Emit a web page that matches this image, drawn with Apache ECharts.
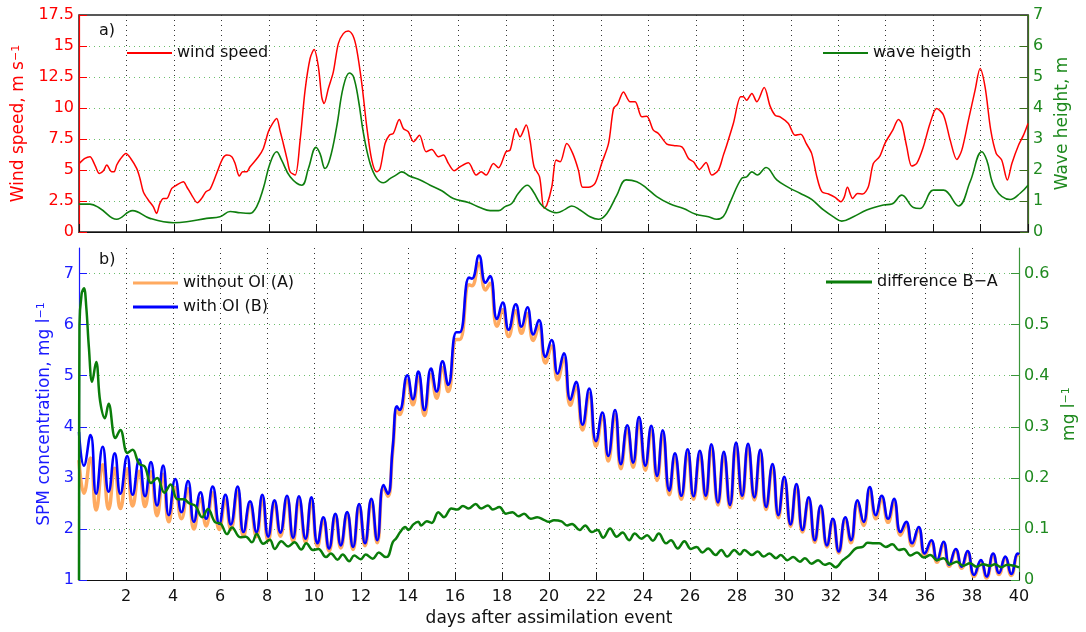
<!DOCTYPE html>
<html>
<head>
<meta charset="utf-8">
<script src="https://cdn.jsdelivr.net/npm/echarts@6/dist/echarts.min.js"></script>
<style>
html,body{margin:0;padding:0;background:#fff;}
#chart{width:1086px;height:632px;}
</style>
</head>
<body>
<div id="chart"></div>
<script>
// ---- panel a) wind speed / wave height ----
const windDays = [0,0.25,0.46,0.67,0.86,1.03,1.17,1.38,1.48,1.59,1.73,1.98,2.18,2.43,2.57,2.71,2.92,3.13,3.27,3.41,3.56,3.7,3.91,4.12,4.4,4.54,4.75,4.99,5.17,5.35,5.52,5.8,6.06,6.23,6.44,6.58,6.76,6.9,7.07,7.21,7.56,7.77,7.98,8.12,8.33,8.47,8.61,8.78,8.9,9.11,9.32,9.53,9.74,9.91,10.09,10.23,10.33,10.51,10.72,10.93,11.14,11.35,11.54,11.7,11.92,12.13,12.34,12.55,12.69,12.9,13.08,13.25,13.5,13.67,13.88,14.1,14.35,14.63,14.87,15.15,15.36,15.57,15.81,16.06,16.41,16.74,16.95,17.16,17.47,17.68,18.0,18.17,18.42,18.59,18.85,19.01,19.18,19.41,19.6,19.72,19.93,20.11,20.28,20.56,20.81,21.05,21.23,21.47,21.75,22.03,22.32,22.53,22.7,22.95,23.23,23.44,23.72,23.93,24.21,24.42,24.78,25.06,25.41,25.69,25.9,26.15,26.43,26.67,26.95,27.16,27.3,27.58,27.89,28.0,28.14,28.36,28.57,28.88,29.13,29.34,29.55,29.9,30.18,30.42,30.65,30.88,31.1,31.31,31.59,31.87,32.11,32.25,32.39,32.61,32.81,33.03,33.27,33.48,33.74,33.98,34.3,34.54,34.68,34.89,35.1,35.31,35.59,35.87,36.15,36.44,36.72,37.0,37.21,37.49,37.77,37.98,38.19,38.43,38.66,38.89,39.13,39.32,39.6,39.81,40];
const windSpeed = [5.5,5.93,6.07,5.4,4.72,4.94,5.4,4.86,4.86,5.4,5.85,6.34,5.93,5.13,4.32,3.25,2.58,2.04,1.5,2.31,2.71,2.71,3.52,3.79,4.05,3.65,2.98,2.36,2.71,3.25,3.44,4.72,5.93,6.2,6.07,5.53,4.51,4.86,4.86,5.26,6.07,6.74,8.08,8.62,9.15,8.21,7.14,5.8,4.86,4.59,7.41,11.44,13.99,14.71,13.32,10.9,10.36,11.57,12.91,15.19,16.0,16.21,15.87,14.79,11.97,8.48,5.8,4.86,5.1,7.14,7.81,7.95,9.07,8.35,8.08,7.28,7.81,6.47,6.66,6.07,6.2,5.53,4.94,5.26,5.58,4.59,4.86,4.59,5.53,5.18,6.47,6.6,8.35,7.68,8.62,7.41,5.26,4.46,1.91,2.17,3.65,5.8,5.66,7.14,6.34,4.99,3.6,3.6,3.92,5.53,7.14,9.96,10.31,11.3,10.5,10.5,9.29,9.34,8.21,7.95,7.09,6.98,6.87,5.93,5.66,5.05,5.61,4.59,4.99,6.2,7.0,8.75,10.9,10.9,10.63,11.17,10.5,11.65,10.15,9.42,9.29,8.75,7.81,7.89,7.14,6.34,4.46,3.25,3.06,2.79,2.44,2.79,3.6,2.71,3.11,3.06,3.65,5.53,6.07,7.19,8.21,9.07,8.75,6.87,5.32,5.53,6.87,8.75,9.96,9.42,7.41,5.85,6.6,9.02,11.44,13.18,11.7,8.21,6.34,5.8,4.19,5.53,7.0,7.81,8.75];

const waveDays = [0,0.46,0.89,1.59,2.26,2.99,3.98,4.54,5.38,5.94,6.37,6.79,7.21,7.49,7.77,8.05,8.33,8.54,8.9,9.39,9.67,9.99,10.16,10.37,10.58,10.86,11.14,11.4,11.57,11.78,11.99,12.27,12.55,12.83,13.11,13.39,13.6,13.95,14.38,14.8,15.29,15.78,16.41,16.9,17.33,17.68,17.96,18.24,18.52,18.9,19.15,19.44,19.72,20.14,20.49,20.77,21.12,21.54,21.89,22.25,22.67,23.06,23.51,23.93,24.35,24.92,25.48,25.97,26.53,26.88,27.16,27.44,27.93,28.14,28.36,28.59,28.96,29.41,29.9,30.39,30.88,31.38,31.8,32.15,32.64,33.2,33.91,34.26,34.68,35.17,35.45,36.01,36.44,37.07,37.56,38.05,38.26,38.61,39.25,39.67,40];
const waveHeight = [0.9,0.9,0.76,0.41,0.69,0.44,0.3,0.33,0.44,0.49,0.66,0.62,0.6,0.82,1.41,2.21,2.59,2.32,1.78,1.51,2.05,2.73,2.53,2.05,2.37,3.39,4.68,5.13,5.01,4.25,3.18,2.21,1.73,1.59,1.72,1.85,1.94,1.8,1.68,1.51,1.33,1.08,0.95,0.79,0.69,0.69,0.82,0.92,1.25,1.51,1.3,0.92,0.73,0.62,0.73,0.84,0.71,0.49,0.41,0.6,1.19,1.68,1.62,1.41,1.14,0.9,0.76,0.58,0.49,0.41,0.5,0.95,1.73,1.78,1.94,1.84,2.08,1.68,1.44,1.25,1.05,0.71,0.49,0.35,0.49,0.71,0.87,0.9,1.19,0.79,0.76,1.35,1.35,0.84,1.62,2.59,2.32,1.41,1.05,1.25,1.51];

// ---- panel b) SPM concentration ----
const spmDays = [0,0.21,0.49,0.73,1.01,1.26,1.52,1.76,2.05,2.28,2.56,2.81,3.06,3.32,3.58,3.82,4.10,4.36,4.64,4.89,5.17,5.41,5.69,5.97,6.23,6.46,6.75,7.0,7.28,7.55,7.8,8.05,8.32,8.57,8.85,9.11,9.36,9.64,9.89,10.15,10.40,10.64,10.91,11.14,11.41,11.66,11.92,12.17,12.44,12.69,12.96,13.14,13.35,13.53,13.64,13.97,14.21,14.44,14.70,14.98,15.22,15.47,15.71,16.06,16.2,16.6,16.72,17.02,17.30,17.49,17.79,18.03,18.28,18.59,18.83,19.08,19.33,19.57,19.85,20.11,20.37,20.63,20.91,21.15,21.43,21.71,22.0,22.27,22.52,22.81,23.06,23.33,23.58,23.83,24.1,24.35,24.6,24.84,25.12,25.36,25.63,25.9,26.15,26.42,26.67,26.91,27.19,27.44,27.7,27.96,28.22,28.47,28.74,28.99,29.24,29.51,29.76,30.01,30.28,30.53,30.79,31.05,31.31,31.56,31.83,32.08,32.33,32.61,32.85,33.13,33.39,33.65,33.91,34.16,34.43,34.68,34.96,35.2,35.45,35.73,35.99,36.27,36.51,36.79,37.03,37.31,37.56,37.81,38.09,38.38,38.62,38.9,39.15,39.42,39.67,39.95,40];
const spmWithOI = [3.9,3.24,3.84,2.69,3.61,2.73,3.48,2.69,3.43,2.67,3.36,2.64,3.31,2.46,3.24,2.27,2.98,2.33,2.94,2.14,2.72,2.2,2.83,2.1,2.67,2.09,2.83,1.94,2.54,1.94,2.67,1.85,2.56,1.93,2.65,1.83,2.64,1.81,2.62,1.72,2.23,1.62,2.3,1.68,2.33,1.65,2.49,1.72,2.59,1.78,2.86,2.69,3.6,4.4,4.33,5.01,4.54,5.08,4.33,5.14,4.69,5.28,4.82,5.85,5.85,6.92,6.9,7.35,6.82,6.95,6.11,6.43,5.9,6.4,5.96,6.34,5.81,6.09,5.37,5.7,5.04,5.44,4.53,4.88,4.04,4.75,3.72,4.28,3.43,4.33,3.27,4.03,3.3,4.19,3.24,4.02,3.04,3.93,2.75,3.48,2.65,3.56,2.64,3.53,2.65,3.66,2.52,3.51,2.47,3.69,2.65,3.67,2.62,3.55,2.43,3.27,2.27,3.02,2.09,2.88,1.98,2.62,1.78,2.46,1.68,2.2,1.56,2.23,1.78,2.56,2.14,2.82,2.27,2.65,2.2,2.59,1.94,2.14,1.72,2.04,1.52,1.78,1.39,1.75,1.3,1.61,1.26,1.57,1.1,1.39,1.07,1.52,1.14,1.46,1.12,1.52,1.5];
const spmWithoutOI = [3.35,2.7,3.39,2.37,3.26,2.39,3.19,2.4,3.18,2.45,3.13,2.44,3.12,2.26,3.07,2.14,2.81,2.2,2.79,2.0,2.59,2.06,2.71,1.99,2.57,1.99,2.74,1.86,2.46,1.85,2.6,1.77,2.5,1.86,2.58,1.76,2.58,1.74,2.56,1.66,2.18,1.57,2.26,1.63,2.29,1.6,2.45,1.67,2.55,1.73,2.82,2.64,3.53,4.32,4.24,4.91,4.43,4.97,4.22,5.03,4.56,5.16,4.69,5.71,5.71,6.78,6.76,7.2,6.68,6.81,5.97,6.29,5.77,6.27,5.83,6.22,5.69,5.97,5.25,5.58,4.92,5.33,4.42,4.78,3.94,4.65,3.62,4.2,3.33,4.24,3.18,3.95,3.21,4.11,3.15,3.94,2.95,3.85,2.67,3.41,2.58,3.49,2.58,3.47,2.59,3.6,2.47,3.46,2.42,3.63,2.6,3.61,2.57,3.5,2.38,3.22,2.22,2.98,2.05,2.84,1.94,2.58,1.74,2.43,1.65,2.17,1.53,2.19,1.73,2.5,2.07,2.75,2.2,2.58,2.13,2.52,1.88,2.08,1.67,1.99,1.48,1.73,1.35,1.71,1.27,1.58,1.23,1.54,1.07,1.36,1.04,1.49,1.11,1.43,1.09,1.49,1.47];

const diffDays = [0,0.02,0.11,0.21,0.31,0.42,0.56,0.73,0.9,1.10,1.26,1.55,1.76,2.06,2.28,2.55,2.8,3.06,3.33,3.63,3.9,4.19,4.45,4.7,4.96,5.24,5.49,5.8,6.02,6.3,6.51,6.86,7.1,7.36,7.56,7.84,8.12,8.33,8.61,8.9,9.17,9.46,9.67,9.95,10.19,10.51,10.72,11.0,11.22,11.5,11.71,11.99,12.2,12.5,12.76,13.05,13.15,13.35,13.5,13.67,13.88,14.02,14.23,14.44,14.56,14.80,15.01,15.29,15.53,15.85,16.09,16.34,16.58,16.88,17.11,17.40,17.61,17.89,18.17,18.45,18.70,18.94,19.22,19.50,19.78,19.99,20.21,20.53,20.77,20.98,21.30,21.54,21.82,22.06,22.31,22.60,22.88,23.13,23.41,23.65,23.93,24.18,24.42,24.67,24.98,25.19,25.48,25.76,26.04,26.28,26.53,26.77,27.09,27.33,27.58,27.89,28.12,28.31,28.64,28.88,29.13,29.38,29.66,29.86,30.14,30.39,30.68,30.89,31.17,31.45,31.73,31.94,32.19,32.5,32.78,33.06,33.35,33.56,33.84,34.05,34.33,34.61,34.89,35.10,35.38,35.66,35.95,36.23,36.51,36.79,37.07,37.35,37.63,37.91,38.19,38.47,38.76,38.97,39.25,39.5,39.78,40];
const diffBA = [0,0.5,0.56,0.571,0.534,0.456,0.388,0.427,0.35,0.317,0.345,0.278,0.294,0.249,0.255,0.228,0.222,0.19,0.2,0.171,0.187,0.158,0.158,0.15,0.145,0.123,0.139,0.113,0.111,0.09,0.103,0.084,0.085,0.074,0.09,0.071,0.079,0.061,0.076,0.066,0.074,0.06,0.072,0.059,0.061,0.045,0.052,0.04,0.05,0.037,0.048,0.041,0.05,0.042,0.054,0.045,0.046,0.074,0.082,0.094,0.104,0.098,0.109,0.114,0.107,0.115,0.112,0.133,0.123,0.14,0.138,0.145,0.14,0.149,0.14,0.146,0.138,0.143,0.13,0.133,0.125,0.13,0.12,0.123,0.118,0.114,0.117,0.115,0.107,0.11,0.098,0.107,0.094,0.098,0.083,0.101,0.085,0.093,0.078,0.091,0.081,0.088,0.077,0.091,0.072,0.078,0.062,0.076,0.061,0.065,0.054,0.062,0.049,0.059,0.046,0.059,0.05,0.059,0.049,0.056,0.046,0.052,0.043,0.049,0.039,0.045,0.036,0.043,0.032,0.039,0.03,0.033,0.025,0.039,0.049,0.062,0.065,0.073,0.072,0.072,0.065,0.07,0.059,0.061,0.048,0.054,0.044,0.049,0.039,0.043,0.031,0.036,0.028,0.033,0.026,0.031,0.028,0.031,0.025,0.03,0.028,0.025];

const FONT = 'DejaVu Sans';
const pairs = (xs, ys) => xs.map((x, i) => [x, ys[i]]);

const chart = echarts.init(document.getElementById('chart'), null, {renderer: 'canvas'});

function xAxisCfg(grid, showLabels) {
  return {
    type: 'value', gridIndex: grid, min: 0, max: 40, interval: 2, position: 'bottom',
    axisLine: {show: true, lineStyle: {color: '#111', width: 1.2}},
    axisTick: {show: true, inside: true, length: 8, lineStyle: {color: '#111'}},
    axisLabel: {show: showLabels, showMinLabel: false, margin: 9, color: '#111', fontFamily: FONT, fontSize: 16},
    splitLine: {show: true, showMinLine: false, showMaxLine: false, lineStyle: {color: '#333', type: [1, 4], width: 1}},
    name: showLabels ? 'days after assimilation event' : '',
    nameLocation: 'middle', nameGap: 27,
    nameTextStyle: {color: '#111', fontFamily: FONT, fontSize: 17}
  };
}

function yAxisCfg(o) {
  return {
    type: 'value', gridIndex: o.grid, position: o.pos, min: o.min, max: o.max, interval: o.interval,
    axisLine: {show: true, onZero: false, lineStyle: {color: o.lineColor, width: 1.2}},
    axisTick: {show: true, inside: true, length: 8, lineStyle: {color: o.lineColor}},
    axisLabel: {color: o.color, fontFamily: FONT, fontSize: 16, margin: 5, showMaxLabel: o.showMax},
    splitLine: o.split ? {show: true, showMinLine: false, showMaxLine: false, lineStyle: {color: '#6cbf6c', type: [1, 4], width: 1}} : {show: false},
    name: o.name, nameLocation: 'middle', nameGap: o.gap, nameRotate: 90,
    nameTextStyle: {color: o.color, fontFamily: FONT, fontSize: 17,
      rich: {sup: {fontSize: 11, verticalAlign: 'top', color: o.color, fontFamily: FONT}}}
  };
}

const legendText = {color: '#111', fontFamily: FONT, fontSize: 16};

const option = {
  animation: false,
  backgroundColor: '#fff',
  title: [
    {text: 'a)', left: 99, top: 23, padding: 0, textStyle: {color: '#111', fontFamily: FONT, fontSize: 16, fontWeight: 'normal'}},
    {text: 'b)', left: 99, top: 252, padding: 0, textStyle: {color: '#111', fontFamily: FONT, fontSize: 16, fontWeight: 'normal'}}
  ],
  grid: [
    {left: 79, top: 15, width: 949, height: 217, show: true, borderColor: '#222', borderWidth: 1.5, backgroundColor: 'transparent'},
    {left: 79, top: 248, width: 949, height: 335}
  ],
  legend: [
    {data: ['wind speed'], left: 127, top: 45, padding: 0, icon: 'rect', itemWidth: 45, itemHeight: 2, itemGap: 5, textStyle: legendText, selectedMode: false},
    {data: ['wave heigth'], left: 823, top: 45, padding: 0, icon: 'rect', itemWidth: 45, itemHeight: 2, itemGap: 5, textStyle: legendText, selectedMode: false},
    {data: ['without OI (A)', 'with OI (B)'], orient: 'vertical', left: 133, top: 275, padding: 0, icon: 'rect', itemWidth: 45, itemHeight: 3, itemGap: 8, textStyle: legendText, selectedMode: false},
    {data: ['difference B\u2212A'], left: 826, top: 274, padding: 0, icon: 'rect', itemWidth: 46, itemHeight: 3, itemGap: 5, textStyle: legendText, selectedMode: false}
  ],
  xAxis: [xAxisCfg(0, false), xAxisCfg(1, true)],
  yAxis: [
    yAxisCfg({grid: 0, pos: 'left', min: 0, max: 17.5, interval: 2.5, color: '#ff0000', lineColor: '#ff0000', split: false, showMax: true,
      name: 'Wind speed, m s{sup|\u22121}', gap: 47}),
    yAxisCfg({grid: 0, pos: 'right', min: 0, max: 7, interval: 1, color: '#1f8a1f', lineColor: '#3b6e1c', split: true, showMax: true,
      name: 'Wave height, m', gap: 22}),
    yAxisCfg({grid: 1, pos: 'left', min: 1, max: 7.5, interval: 1, color: '#1a1aff', lineColor: '#1a1aff', split: false, showMax: false,
      name: 'SPM concentration, mg l{sup|\u22121}', gap: 21}),
    yAxisCfg({grid: 1, pos: 'right', min: 0, max: 0.65, interval: 0.1, color: '#1f8a1f', lineColor: '#3a963a', split: true, showMax: false,
      name: 'mg l{sup|\u22121}', gap: 42})
  ],
  series: [
    {name: 'wind speed', type: 'line', xAxisIndex: 0, yAxisIndex: 0, data: pairs(windDays, windSpeed), symbol: 'none', smooth: 0.3,
      itemStyle: {color: '#ff0000'}, lineStyle: {color: '#ff0000', width: 1.5}, z: 3},
    {name: 'wave heigth', type: 'line', xAxisIndex: 0, yAxisIndex: 1, data: pairs(waveDays, waveHeight), symbol: 'none', smooth: 0.4,
      itemStyle: {color: '#0e7e0e'}, lineStyle: {color: '#0e7e0e', width: 1.6}, z: 3},
    {name: 'without OI (A)', type: 'line', xAxisIndex: 1, yAxisIndex: 2, data: pairs(spmDays, spmWithoutOI), symbol: 'none', smooth: 0.5,
      itemStyle: {color: '#ffaa60'}, lineStyle: {color: '#ffaa60', width: 3.5}, z: 2},
    {name: 'with OI (B)', type: 'line', xAxisIndex: 1, yAxisIndex: 2, data: pairs(spmDays, spmWithOI), symbol: 'none', smooth: 0.5,
      itemStyle: {color: '#0000ff'}, lineStyle: {color: '#0000ff', width: 2.6}, z: 3},
    {name: 'difference B\u2212A', type: 'line', xAxisIndex: 1, yAxisIndex: 3, data: pairs(diffDays, diffBA), symbol: 'none', smooth: 0.4,
      itemStyle: {color: '#0a7d0a'}, lineStyle: {color: '#0a7d0a', width: 2.5}, z: 4}
  ]
};
chart.setOption(option);
</script>
</body>
</html>
